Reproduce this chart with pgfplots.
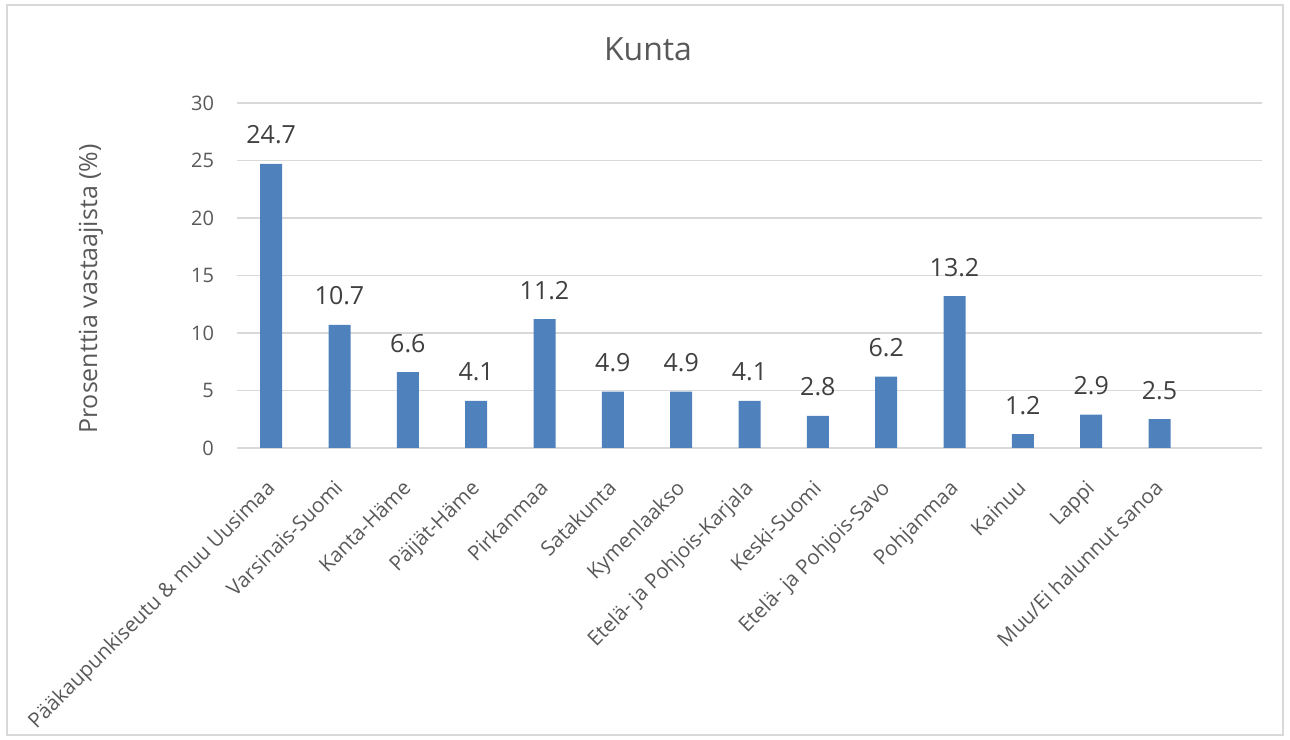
\documentclass[border=0pt]{standalone}
\usepackage{fontspec}
\setmainfont{Open Sans}
\usepackage{pgfplots}
\pgfplotsset{compat=1.18}
\definecolor{barblue}{HTML}{4F81BD}
\definecolor{gridgray}{HTML}{D9D9D9}
\definecolor{textgray}{HTML}{595959}
\definecolor{labelgray}{HTML}{404040}

\pgfplotstableread{
idx share
0 24.7
1 10.7
2 6.6
3 4.1
4 11.2
5 4.9
6 4.9
7 4.1
8 2.8
9 6.2
10 13.2
11 1.2
12 2.9
13 2.5
}\kunta

\begin{document}
\begin{tikzpicture}
\useasboundingbox (0pt,0pt) rectangle (645pt,369.5pt);
\draw[gridgray, line width=0.8pt] (3.5pt,2pt) rectangle (641.5pt,367pt);
\node[textgray, font=\fontsize{16}{19}\selectfont] at (324pt,345pt) {Kunta};
\node[textgray, rotate=90, font=\fontsize{12.5}{15}\selectfont] at (45.5pt,225pt) {Prosenttia vastaajista (\%)};

\begin{axis}[
  at={(118.5pt,145.5pt)}, anchor=south west,
  scale only axis, width=512.5pt, height=172.5pt,
  xmin=-0.5, xmax=14.5, ymin=0, ymax=30,
  ytick={0,5,...,30},
  xtick={0,...,13},
  xticklabels={Pääkaupunkiseutu \& muu Uusimaa, Varsinais-Suomi, Kanta-Häme,
    Päijät-Häme, Pirkanmaa, Satakunta, Kymenlaakso, Etelä- ja Pohjois-Karjala,
    Keski-Suomi, Etelä- ja Pohjois-Savo, Pohjanmaa, Kainuu, Lappi,
    Muu/Ei halunnut sanoa},
  axis line style={draw=none},
  major tick length=0pt,
  ymajorgrids, grid style={gridgray, line width=0.75pt},
  /pgf/number format/assume math mode=true,
  yticklabel style={textgray, font=\fontsize{10}{12}\selectfont, xshift=-8pt},
  xticklabel style={textgray, font=\fontsize{10.3}{13}\selectfont, rotate=45, anchor=north east, xshift=-9.6pt, yshift=-5.1pt},
  nodes near coords,
  nodes near coords style={labelgray, font=\fontsize{12.5}{15}\selectfont, anchor=base, yshift=10pt,
    /pgf/number format/.cd, fixed, precision=1, fixed zerofill},
]
\addplot[ybar, bar width=11pt, fill=barblue, draw=none] table[x=idx, y=share] {\kunta};
\end{axis}
\end{tikzpicture}
\end{document}
